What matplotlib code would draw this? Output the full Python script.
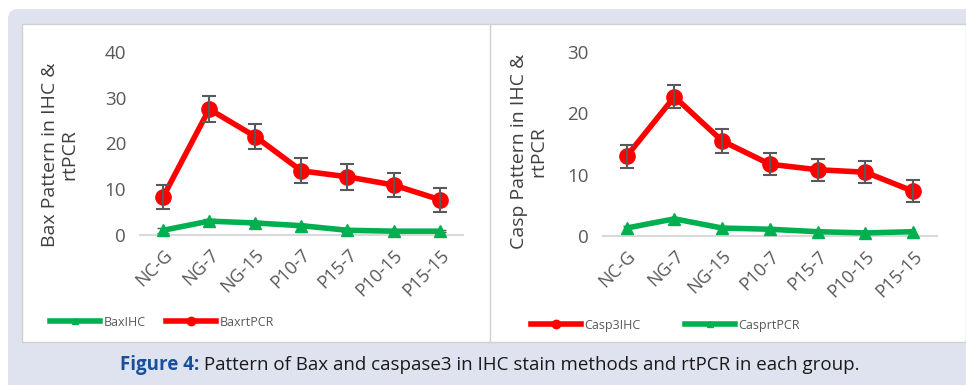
import matplotlib.pyplot as plt
from matplotlib.patches import FancyBboxPatch, Rectangle

groups = ['NC-G', 'NG-7', 'NG-15', 'P10-7', 'P15-7', 'P10-15', 'P15-15']

# Bax panel
bax_ihc = [1.0, 3.0, 2.6, 2.0, 1.0, 0.8, 0.8]
bax_ihc_err = [0.5, 0.4, 0.4, 0.3, 0.3, 0.2, 0.2]
bax_pcr = [8.3, 27.5, 21.5, 14.0, 12.7, 10.9, 7.7]
bax_pcr_err = [2.7, 2.8, 2.7, 2.7, 2.8, 2.6, 2.6]

# Caspase panel
casp_ihc = [13.0, 22.7, 15.5, 11.7, 10.8, 10.4, 7.3]
casp_ihc_err = [1.9, 1.9, 1.9, 1.8, 1.8, 1.8, 1.8]
casp_pcr = [1.3, 2.8, 1.3, 1.1, 0.7, 0.5, 0.7]

RED = '#ff0000'
GREEN = '#00b050'
GRAY = '#595959'

plt.rcParams['font.family'] = ['Open Sans', 'DejaVu Sans']

fig = plt.figure(figsize=(9.66, 3.85), dpi=100)

# background frame
bg = fig.add_axes([0, 0, 1, 1], zorder=-10)
bg.set_xlim(0, 966)
bg.set_ylim(385, 0)
bg.axis('off')
bg.add_patch(FancyBboxPatch((8, 9), 966, 390, boxstyle='round,pad=0,rounding_size=10',
                            fc='#dfe3f0', ec='none'))
bg.add_patch(Rectangle((22, 24), 944, 318, fc='white', ec='#d0d0d0', lw=1))
bg.plot([490, 490], [24, 342], color='#d0d0d0', lw=1)

t1 = bg.text(120, 365, 'Figure 4:', ha='left', va='center',
             fontsize=13.5, fontweight='bold', color='#1a4f9c')
bg.annotate(' Pattern of Bax and caspase3 in IHC stain methods and rtPCR in each group.',
            xy=(1, 0.5), xycoords=t1, ha='left', va='center', fontsize=13.5, color='#1a1a1a')


def style(ax, ymax, ylabel, lx, ly):
    ax.set_xlim(-0.5, len(groups) - 0.5)
    ax.set_ylim(0, ymax)
    ax.set_yticks(range(0, ymax + 1, 10))
    ax.set_xticks(list(range(len(groups))))
    ax.set_xticklabels(groups, rotation=45, ha='right', rotation_mode='anchor')
    for s in ['top', 'right', 'left']:
        ax.spines[s].set_visible(False)
    ax.spines['bottom'].set_color('#d9d9d9')
    ax.spines['bottom'].set_linewidth(1.5)
    ax.tick_params(length=0, labelsize=13.5, colors=GRAY, pad=10)
    ax.tick_params(axis='x', labelsize=13, pad=8)
    ax.set_ylabel(ylabel, fontsize=14, color='#404040', linespacing=1.1)
    ax.yaxis.set_label_coords(lx, ly)
    ax.patch.set_alpha(0)


x = list(range(len(groups)))

ax1 = fig.add_axes([0.145, 0.39, 0.334, 0.475])
l1, = ax1.plot(x, bax_ihc, color=GREEN, lw=4, marker='^', ms=9, clip_on=False, zorder=3)
ax1.errorbar(x, bax_ihc, yerr=bax_ihc_err, fmt='none', ecolor=GRAY, elinewidth=1.2, capsize=4, zorder=2)
l2, = ax1.plot(x, bax_pcr, color=RED, lw=4, marker='o', ms=11, zorder=3)
ax1.errorbar(x, bax_pcr, yerr=bax_pcr_err, fmt='none', ecolor=GRAY, elinewidth=1.5, capsize=5, capthick=1.5, zorder=4)
style(ax1, 40, 'Bax Pattern in IHC &\nrtPCR', -0.19, 0.44)
fig.legend([l1, l2], ['BaxIHC', 'BaxrtPCR'], loc='center left', bbox_to_anchor=(0.04, 0.163),
           ncol=2, frameon=False, fontsize=9, handlelength=4.0, handletextpad=0.3,
           columnspacing=1.6, markerscale=0.55, labelcolor=GRAY)

ax2 = fig.add_axes([0.624, 0.387, 0.346, 0.478])
l3, = ax2.plot(x, casp_ihc, color=RED, lw=4, marker='o', ms=11, zorder=3)
ax2.errorbar(x, casp_ihc, yerr=casp_ihc_err, fmt='none', ecolor=GRAY, elinewidth=1.5, capsize=5, capthick=1.5, zorder=4)
l4, = ax2.plot(x, casp_pcr, color=GREEN, lw=4, marker='^', ms=9, clip_on=False, zorder=3)
style(ax2, 30, 'Casp Pattern in IHC &\nrtPCR', -0.165, 0.46)
fig.legend([l3, l4], ['Casp3IHC', 'CasprtPCR'], loc='center left', bbox_to_anchor=(0.538, 0.155),
           ncol=2, frameon=False, fontsize=9, handlelength=4.0, handletextpad=0.3,
           columnspacing=3.5, markerscale=0.55, labelcolor=GRAY)

fig.savefig('out.png', dpi=100)
